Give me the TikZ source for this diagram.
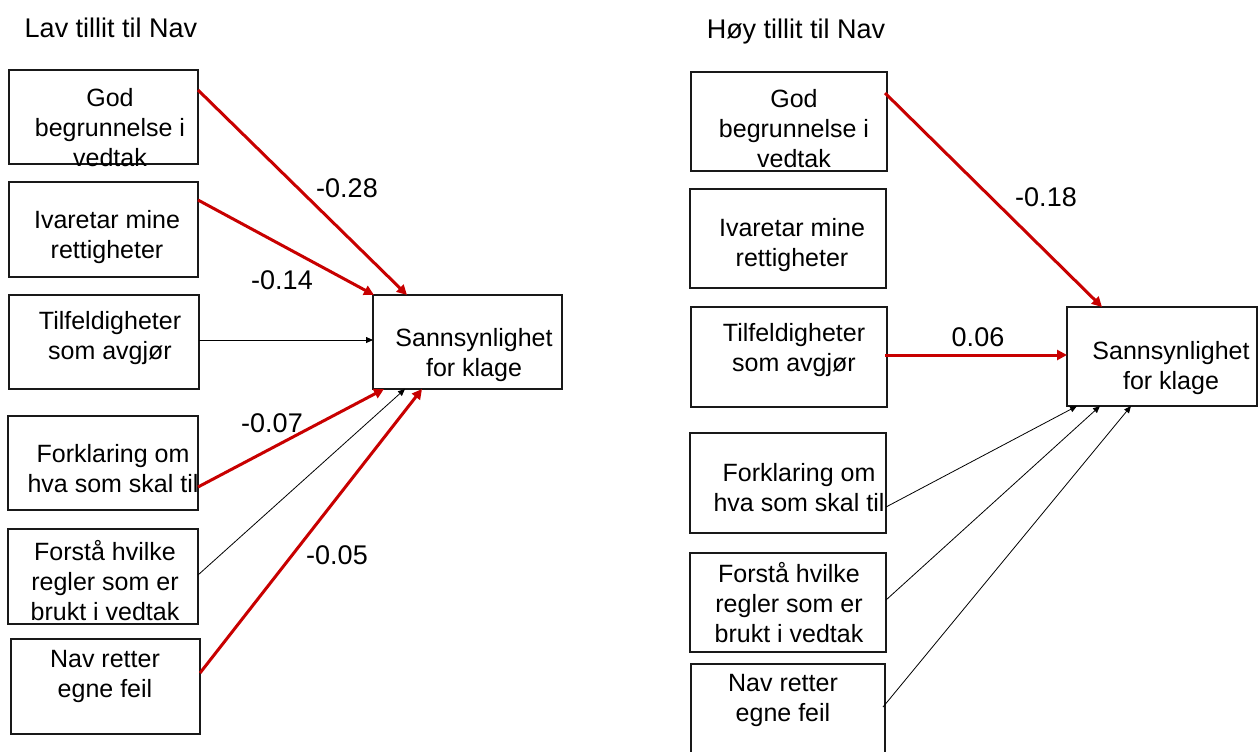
\documentclass[tikz,border=0pt]{standalone}
\usepackage{fontspec}
\setmainfont{Liberation Sans}
\usetikzlibrary{arrows.meta,calc}
\definecolor{pathred}{RGB}{200,0,0}
\newcommand\boxfont{\fontsize{12.5pt}{15pt}\selectfont}

\begin{document}
\begin{tikzpicture}[x=0.5pt,y=-0.5pt,
  varbox/.style={draw=black!90,line width=1pt,inner sep=0,outer sep=0},
  vartext/.style={align=center,font=\boxfont,inner sep=0},
  paneltitle/.style={font=\fontsize{13.5pt}{15pt}\selectfont,inner sep=0},
  coef/.style={font=\fontsize{13.5pt}{15pt}\selectfont,inner sep=0},
  sigpath/.style={draw=pathred,line width=1.5pt,-{Triangle[length=5pt,width=5pt]}},
  nonsig/.style={draw=black,line width=0.4pt,-{Triangle[length=3.5pt,width=3pt]}},
  ]
  \useasboundingbox (0,0) rectangle (1258,751);
  \clip (0,0) rectangle (1258,751);

  % panel titles
  \node[paneltitle] (lavtitle) at (111,28) {Lav tillit til Nav};
  \node[paneltitle] (hoytitle) at (796,32) {Høy tillit til Nav};

  % boxes
  \foreach \name/\cx/\cy/\w/\h in
  {l1/103.5/117/189/94,l2/103.5/229.5/189/95,l3/104/342/190/94,
   l4/103/463/190/94,l5/103/576.5/190/95,l6/105.5/686.5/189/95,
   lk/467.5/342/189/94,
   r1/789/121.5/196/99,r2/788/238.5/196/99,r3/789/357/196/100,
   r4/788/483/196/100,r5/788/602.5/196/99,r6/788/714/194/100,
   rk/1162/356.5/190/99}
  {
    \node[varbox,minimum width=\w*0.5pt,minimum height=\h*0.5pt] (\name) at (\cx,\cy) {};
  }

  % box texts
  \foreach \name/\tx/\ty/\txt in
  {l1/110/128/{God\\begrunnelse i\\vedtak},
   l2/107/237/{Ivaretar mine\\rettigheter},
   l3/110/338/{Tilfeldigheter\\som avgjør},
   l4/113/469/{Forklaring om\\hva som skal til},
   l5/105/581/{Forstå hvilke\\regler som er\\brukt i vedtak},
   l6/105/676/{Nav retter\\egne feil},
   lk/474/355/{Sannsynlighet\\for klage},
   r1/794/129/{God\\begrunnelse i\\vedtak},
   r2/792/245/{Ivaretar mine\\rettigheter},
   r3/794/350/{Tilfeldigheter\\som avgjør},
   r4/799/488/{Forklaring om\\hva som skal til},
   r5/789/603/{Forstå hvilke\\regler som er\\brukt i vedtak},
   r6/783/700/{Nav retter\\egne feil},
   rk/1171/368/{Sannsynlighet\\for klage}}
  {
    \node[vartext] (\name-txt) at (\tx,\ty) {\txt};
  }

  % left panel paths
  \draw[sigpath] ($(l1.east)+(0,-27)$) -- ($(lk.north)+(-60.5,0)$);
  \draw[sigpath] ($(l2.east)+(0,-29.5)$) -- ($(lk.north west)+(1,0)$);
  \draw[nonsig] ($(l3.east)+(0,-2)$) -- ($(lk.west)+(0,-2)$);
  \draw[sigpath] ($(l4.east)+(0,24)$) -- ($(lk.south west)+(11,0)$);
  \draw[nonsig] ($(l5.east)+(0,-1.5)$) -- ($(lk.south west)+(32,0)$);
  \draw[sigpath] ($(l6.east)+(0,-13.5)$) -- ($(lk.south west)+(49,0)$);

  % right panel paths
  \draw[sigpath] ($(r1.east)+(-2,-28.5)$) -- ($(rk.north west)+(35,0)$);
  \draw[sigpath] ($(r3.east)+(-2,-2)$) -- ($(rk.west)+(0,-1.5)$);
  \draw[nonsig] ($(r4.east)+(0,24)$) -- ($(rk.south west)+(10,0)$);
  \draw[nonsig] ($(r5.east)+(0,-2.5)$) -- ($(rk.south west)+(33,0)$);
  \draw[nonsig] ($(r6.east)+(-2,-7)$) -- ($(rk.south west)+(64,0)$);

  % coefficients
  \node[coef] (c1) at (347,188) {-0.28};
  \node[coef] (c2) at (282,280) {-0.14};
  \node[coef] (c4) at (272,423) {-0.07};
  \node[coef] (c6) at (337,555) {-0.05};
  \node[coef] (d1) at (1046,197) {-0.18};
  \node[coef] (d3) at (978,337) {0.06};
\end{tikzpicture}
\end{document}
